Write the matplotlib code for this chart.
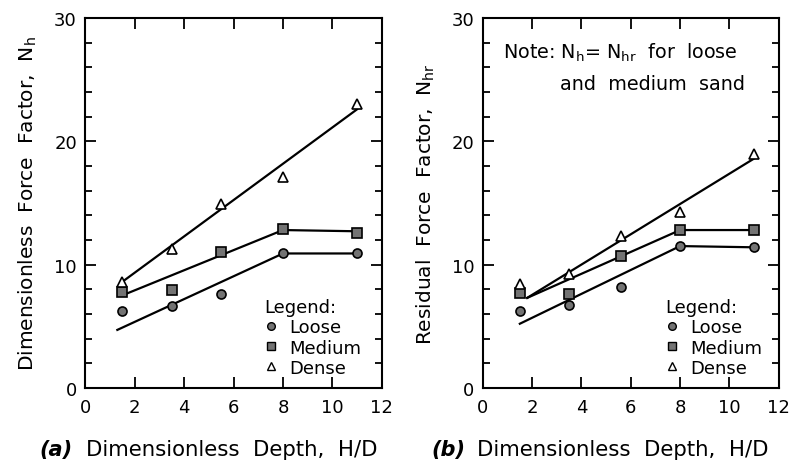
import numpy as np
import matplotlib
matplotlib.use("Agg")
import matplotlib.pyplot as plt
from matplotlib.lines import Line2D
from matplotlib.ticker import MultipleLocator

plt.rcParams['font.family'] = ['DejaVu Sans']

# data
depth_a = [1.5, 3.5, 5.5, 8.0, 11.0]
loose_a = [6.2, 6.6, 7.6, 10.9, 10.9]
medium_a = [7.8, 7.9, 11.0, 12.9, 12.6]
dense_a = [8.6, 11.3, 14.9, 17.1, 23.0]

depth_b = [1.5, 3.5, 5.6, 8.0, 11.0]
loose_b = [6.2, 6.7, 8.2, 11.5, 11.4]
medium_b = [7.7, 7.6, 10.7, 12.8, 12.8]
dense_b = [8.4, 9.2, 12.3, 14.3, 19.0]

# hand drawn trend lines (break points)
fit_a = {
    "loose": ([1.3, 8.0, 11.0], [4.7, 10.9, 10.9]),
    "medium": ([1.5, 8.0, 11.0], [7.5, 12.8, 12.7]),
    "dense": ([1.5, 11.0], [8.6, 22.6]),
}
fit_b = {
    "loose": ([1.5, 8.0, 11.0], [5.2, 11.5, 11.4]),
    "medium": ([1.8, 8.0, 11.0], [7.3, 12.8, 12.8]),
    "dense": ([1.8, 11.0], [7.3, 18.6]),
}

styles = {
    "loose": dict(marker='o', mfc='0.45', mec='black', ms=6.5),
    "medium": dict(marker='s', mfc='0.45', mec='black', ms=6.5),
    "dense": dict(marker='^', mfc='white', mec='black', ms=7.5),
}


def draw_panel(ax, depth, series, fits, ylabel, leg_x):
    for name, vals in series.items():
        fx, fy = fits[name]
        ax.plot(fx, fy, color='black', lw=1.6, zorder=2)
        ax.plot(depth, vals, ls='none', mew=1.2, zorder=3, **styles[name])

    ax.set_xlim(0, 12)
    ax.set_ylim(0, 30)
    ax.xaxis.set_major_locator(MultipleLocator(2))
    ax.yaxis.set_major_locator(MultipleLocator(10))
    ax.yaxis.set_minor_locator(MultipleLocator(2))
    ax.tick_params(which='both', direction='in', top=True, right=True,
                   labelsize=13, width=1.3)
    ax.tick_params(axis='x', pad=7)
    ax.tick_params(axis='y', pad=6)
    ax.tick_params(which='major', length=8)
    ax.tick_params(which='minor', length=5)
    for sp in ax.spines.values():
        sp.set_linewidth(1.5)
    ax.set_ylabel(ylabel, fontsize=14.5, labelpad=11)

    handles = [Line2D([], [], ls='none', mew=1.0, **dict(styles[n], ms=5.5))
               for n in ["loose", "medium", "dense"]]
    leg = ax.legend(handles, ["Loose", "Medium", "Dense"], title="Legend:",
                    loc='lower right', bbox_to_anchor=(leg_x, 0.03),
                    frameon=False, fontsize=13, title_fontsize=13,
                    handlelength=0.8, handletextpad=0.6, labelspacing=0.12,
                    borderaxespad=0.0, borderpad=0.0)
    leg._legend_box.align = "left"


fig = plt.figure(figsize=(7.89, 4.64), dpi=100)
ax1 = fig.add_axes([0.108, 0.162, 0.376, 0.797])
ax2 = fig.add_axes([0.612, 0.162, 0.375, 0.797])

draw_panel(ax1, depth_a, {"loose": loose_a, "medium": medium_a, "dense": dense_a},
           fit_a, r"Dimensionless  Force  Factor,  $\mathregular{N_h}$", 0.93)
draw_panel(ax2, depth_b, {"loose": loose_b, "medium": medium_b, "dense": dense_b},
           fit_b, r"Residual  Force  Factor,  $\mathregular{N_{hr}}$", 0.945)

ax2.text(0.068, 0.892, r"Note: $\mathregular{N_h}$= $\mathregular{N_{hr}}$  for  loose",
         transform=ax2.transAxes, ha='left', va='baseline', fontsize=13.8)
ax2.text(0.885, 0.808, "and  medium  sand", transform=ax2.transAxes,
         ha='right', va='baseline', fontsize=13.8)

fig.text(0.05, 0.018, "(a)", fontsize=15, style='italic', weight='bold')
fig.text(0.109, 0.018, "Dimensionless  Depth,  H/D", fontsize=15.3)
fig.text(0.547, 0.018, "(b)", fontsize=15, style='italic', weight='bold')
fig.text(0.604, 0.018, "Dimensionless  Depth,  H/D", fontsize=15.3)

fig.savefig("out.png", dpi=100)
